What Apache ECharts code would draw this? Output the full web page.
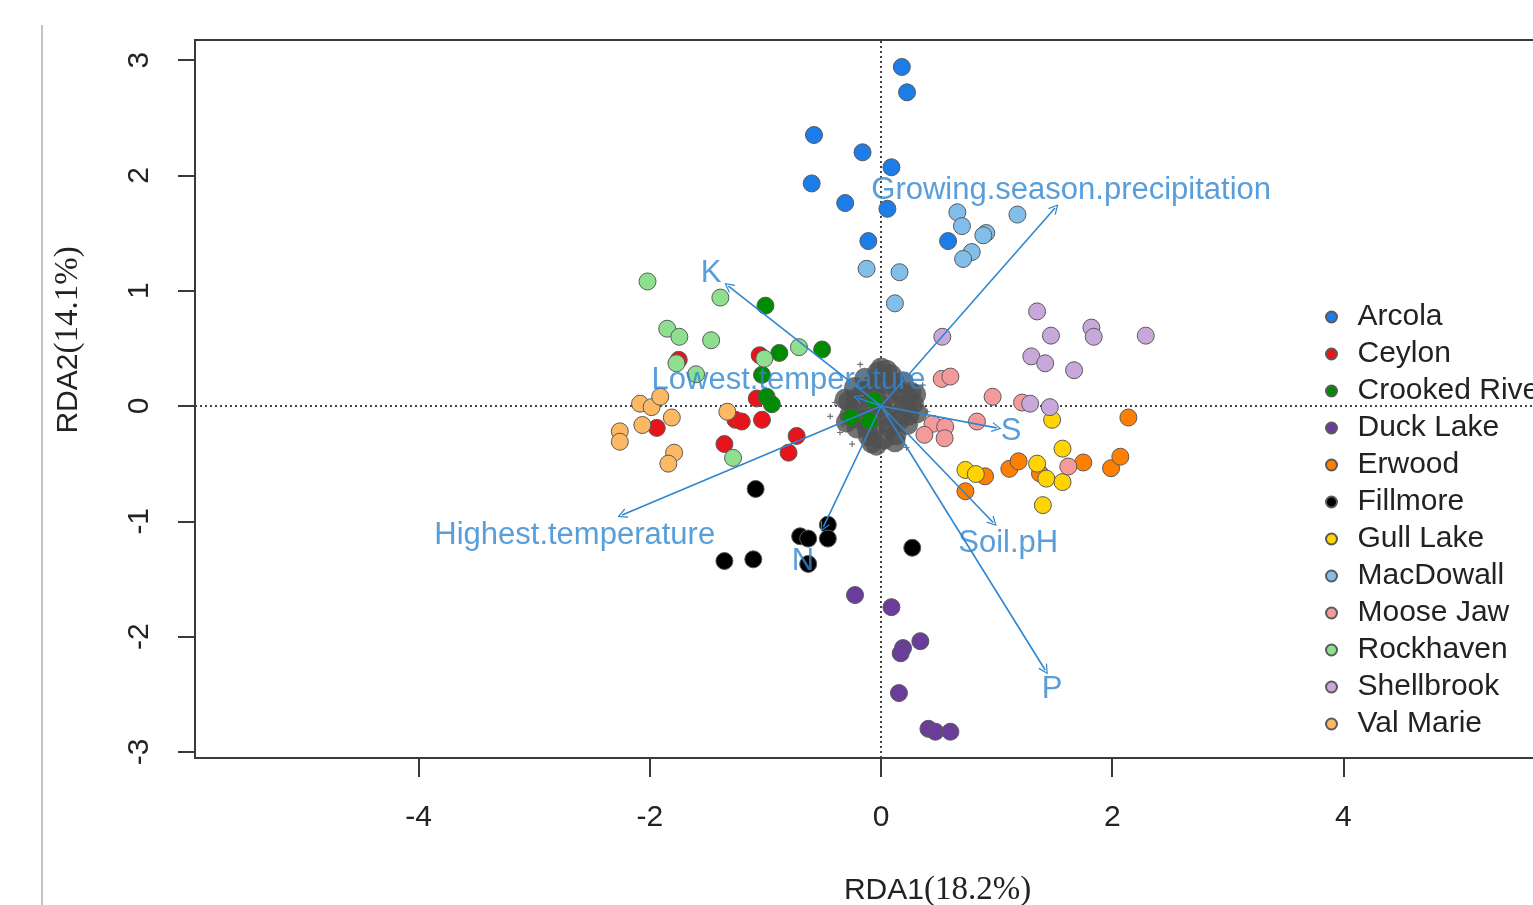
<!DOCTYPE html>
<html>
<head>
<meta charset="utf-8">
<script src="https://cdn.jsdelivr.net/npm/echarts@6/dist/echarts.min.js"></script>
<style>html,body{margin:0;padding:0;background:#fff;overflow:hidden;}#c{width:1533px;height:905px;}</style>
</head>
<body>
<div id="c"></div>
<script>
// ---- data ----
const sites = ['Arcola','Ceylon','Crooked River','Duck Lake','Erwood','Fillmore','Gull Lake','MacDowall','Moose Jaw','Rockhaven','Shellbrook','Val Marie'];
const arcola = [[0.18,2.94],[0.225,2.72],[-0.58,2.35],[-0.16,2.20],[0.09,2.07],[-0.60,1.93],[-0.31,1.76],[0.055,1.71],[-0.11,1.43],[0.58,1.43]];
const ceylon = [[-1.75,0.40],[-1.05,0.44],[-1.94,-0.19],[-1.075,0.065],[-1.26,-0.12],[-1.205,-0.135],[-1.03,-0.12],[-1.355,-0.33],[-0.73,-0.26],[-0.80,-0.405]];
const crookedRiver = [[-1.0,0.87],[-0.88,0.46],[-0.51,0.49],[-1.03,0.27],[-0.99,0.08],[-0.945,0.015],[-0.26,-0.10],[-0.10,-0.13],[-0.06,0.05]];
const duckLake = [[-0.225,-1.64],[0.09,-1.745],[0.34,-2.04],[0.19,-2.10],[0.17,-2.145],[0.155,-2.49],[0.41,-2.80],[0.47,-2.825],[0.60,-2.825]];
const erwood = [[2.14,-0.10],[0.90,-0.61],[0.73,-0.74],[1.11,-0.545],[1.19,-0.48],[1.375,-0.585],[1.75,-0.49],[1.99,-0.54],[2.07,-0.44]];
const fillmore = [[-1.085,-0.72],[-1.355,-1.345],[-1.105,-1.33],[-0.70,-1.13],[-0.63,-1.15],[-0.46,-1.03],[-0.46,-1.15],[-0.63,-1.37],[0.27,-1.23]];
const gullLake = [[1.48,-0.12],[1.57,-0.37],[0.73,-0.555],[0.82,-0.59],[1.35,-0.50],[1.43,-0.63],[1.57,-0.66],[1.40,-0.86]];
const macDowall = [[0.66,1.68],[0.70,1.56],[0.91,1.50],[0.885,1.48],[0.785,1.335],[0.71,1.275],[1.18,1.66],[-0.125,1.19],[0.16,1.16],[0.12,0.89]];
const mooseJaw = [[0.525,0.235],[0.60,0.255],[0.965,0.08],[1.22,0.03],[0.83,-0.135],[0.445,-0.155],[0.555,-0.18],[0.375,-0.25],[0.55,-0.28],[1.62,-0.525]];
const rockhaven = [[-2.02,1.08],[-1.39,0.94],[-1.85,0.67],[-1.745,0.60],[-1.47,0.57],[-1.77,0.37],[-0.71,0.51],[-1.01,0.41],[-1.60,0.275],[-1.28,-0.45]];
const shellbrook = [[1.35,0.82],[0.53,0.60],[1.47,0.61],[1.82,0.68],[1.84,0.60],[2.29,0.61],[1.30,0.43],[1.42,0.37],[1.67,0.31],[1.29,0.02],[1.46,-0.01]];
const valMarie = [[-2.085,0.02],[-1.985,-0.01],[-1.91,0.08],[-1.81,-0.10],[-2.065,-0.165],[-2.26,-0.22],[-2.26,-0.31],[-1.79,-0.405],[-1.84,-0.50],[-1.33,-0.05]];
const siteData = [arcola,ceylon,crookedRiver,duckLake,erwood,fillmore,gullLake,macDowall,mooseJaw,rockhaven,shellbrook,valMarie];

// species scores (dense cluster at the origin)
const speciesCore = [[0.00,0.00],[0.10,0.01],[0.05,0.09],[-0.05,0.08],[-0.10,-0.01],[-0.05,-0.09],[0.06,-0.08],
  [0.20,0.00],[0.16,0.12],[0.06,0.19],[-0.07,0.19],[-0.16,0.11],[-0.20,-0.01],[-0.16,-0.12],[-0.06,-0.19],[0.07,-0.19],[0.16,-0.12],
  [0.28,0.02],[0.26,0.12],[0.19,0.21],[0.09,0.27],[-0.03,0.29],[-0.14,0.24],[-0.23,0.16],[-0.28,0.04],[-0.27,-0.08],[-0.21,-0.19],[-0.11,-0.26],[0.02,-0.29],[0.13,-0.25],[0.23,-0.16],
  [0.0,0.33],[0.05,0.31],[0.12,-0.31],[-0.30,-0.14],[0.31,-0.06],[-0.08,-0.32],[-0.04,-0.34],[0.30,0.10],[-0.31,0.06],
  [0.22,0.08],[-0.22,0.06],[0.12,0.20],[-0.12,-0.20],[0.24,-0.08],[-0.24,-0.10],[0.10,-0.16],[-0.10,0.16]];
const speciesOuter = [[-0.44,-0.09],[-0.355,-0.23],[-0.33,-0.165],[-0.05,-0.36],[-0.40,0.03],[0.38,-0.22],[-0.25,-0.33],[0.36,0.18],[-0.18,0.36],[0.22,-0.36],[-0.02,0.38],[0.40,-0.05]];

// environmental arrows
const envNames = ['Growing.season.precipitation','K','Lowest.temperature','Highest.temperature','N','S','Soil.pH','P'];
const envTips = [[1.505,1.717],[-1.32,1.04],[-0.20,0.07],[-2.24,-0.945],[-0.50,-1.05],[1.00,-0.19],[0.97,-1.01],[1.42,-2.29]];
const envLabelPos = [[1.645,1.873],[-1.47,1.145],[-0.80,0.225],[-2.65,-1.12],[-0.675,-1.345],[1.125,-0.225],[1.10,-1.19],[1.48,-2.46]];

const xTicks = [-4,-2,0,2,4];
const yTicks = [-3,-2,-1,0,1,2,3];

// ---- styles ----
const palette = ['#1C7CE8','#E8141B','#008B00','#6A3D9A','#FF7F00','#000000','#FFD400','#82BEEA','#F59A9A','#8EE08E','#C8A8DA','#FDB863'];
const arrowColor = '#2F86CF';
const sans = "'Liberation Sans', Arial, sans-serif";
const serif = "'Liberation Serif', 'Times New Roman', serif";
const chevron = 'path://M0,10 L5,0 L10,10 L8.9,10.6 L5,2.6 L1.1,10.6 Z';

const chart = echarts.init(document.getElementById('c'), null, {renderer:'canvas'});

const series = [];
series.push({
  name: 'species', type: 'scatter', z: 2, silent: true,
  data: speciesCore, symbolSize: 21,
  itemStyle: {color: '#505050'},
  markLine: {
    silent: true, symbol: 'none', label: {show:false}, z: 1,
    lineStyle: {color: '#444', width: 2, type: [2,3]},
    data: [{xAxis: 0}, {yAxis: 0}]
  }
});
series.push({
  name: 'species2', type: 'scatter', z: 2, silent: true,
  data: speciesOuter, symbol: 'path://M4,0H6V4H10V6H6V10H4V6H0V4H4Z', symbolSize: 6,
  itemStyle: {color: '#505050'}
});
sites.forEach((s, i) => {
  series.push({
    name: s, type: 'scatter', z: 3,
    data: siteData[i], symbolSize: 17,
    itemStyle: {color: palette[i], borderColor: '#5a5a5a', borderWidth: 1, opacity: 1}
  });
});
series.push({
  name: 'arrows', type: 'lines', coordinateSystem: 'cartesian2d', z: 5, silent: true,
  symbol: ['none', chevron], symbolSize: 10,
  lineStyle: {color: arrowColor, width: 1.6, opacity: 1},
  data: envTips.map(t => ({coords: [[0,0], t]}))
});
series.push({
  name: 'envLabels', type: 'scatter', z: 6, silent: true,
  symbolSize: 0,
  data: envNames.map((n, i) => ({name: n, value: envLabelPos[i]})),
  label: {show: true, position: 'inside', formatter: '{b}', color: arrowColor, fontSize: 31, fontFamily: sans}
});

chart.setOption({
  animation: false,
  backgroundColor: '#fff',
  textStyle: {fontFamily: sans},
  grid: {left: 195, top: 40, width: 1373, height: 718, show: true, borderColor: '#3a3a3a', borderWidth: 2, containLabel: false, outerBoundsMode: 'none'},
  xAxis: {
    type: 'value', min: -5.935, max: 5.943,
    axisLine: {show: true, onZero: false, lineStyle: {color: '#3a3a3a', width: 2}},
    axisTick: {show: true, inside: false, length: 19, customValues: xTicks, lineStyle: {color: '#3a3a3a', width: 2}},
    axisLabel: {show: true, customValues: xTicks, margin: 45, fontSize: 30, color: '#222', fontFamily: sans},
    splitLine: {show: false},
    name: '{a|RDA1}{b|(18.2%)}', nameLocation: 'middle', nameGap: 116,
    nameTextStyle: {padding: [0,0,0,112], rich: {a: {fontSize: 30, fontFamily: sans, color: '#222'}, b: {fontSize: 33, fontFamily: serif, color: '#222'}}}
  },
  yAxis: {
    type: 'value', min: -3.053, max: 3.174,
    axisLine: {show: true, onZero: false, lineStyle: {color: '#3a3a3a', width: 2}},
    axisTick: {show: true, inside: false, length: 17, customValues: yTicks, lineStyle: {color: '#3a3a3a', width: 2}},
    axisLabel: {show: true, customValues: yTicks, rotate: 90, margin: 40, fontSize: 30, color: '#222', fontFamily: sans},
    splitLine: {show: false},
    name: '{a|RDA2}{b|(14.1%)}', nameLocation: 'middle', nameGap: 110,
    nameTextStyle: {padding: [0,0,0,118], rich: {a: {fontSize: 30, fontFamily: sans, color: '#222'}, b: {fontSize: 33, fontFamily: serif, color: '#222'}}}
  },
  legend: {
    data: sites, orient: 'vertical', left: 1320, top: 297,
    icon: 'circle', itemWidth: 42, itemHeight: 11, itemGap: 7,
    textStyle: {fontSize: 30, lineHeight: 30, color: '#222', fontFamily: sans},
    selectedMode: false
  },
  graphic: [{type: 'line', shape: {x1: 42, y1: 25, x2: 42, y2: 905}, style: {stroke: '#c4c4c4', lineWidth: 2}, silent: true}],
  series: series
});
</script>
</body>
</html>
